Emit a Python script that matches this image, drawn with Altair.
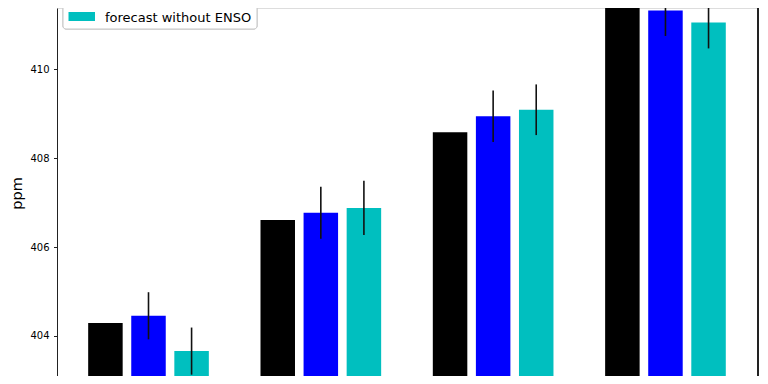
import altair as alt
import pandas as pd

# ---- data ----
groups = [0, 1, 2, 3]
series = ["observed", "forecast", "forecast without ENSO"]
colors = ["#000000", "#0000ff", "#00bfbf"]
observed = [404.29, 406.61, 408.585, 411.51]
forecast = [404.455, 406.77, 408.945, 411.32]
forecast_err = [0.53, 0.585, 0.58, 0.57]
no_enso = [403.66, 406.88, 409.09, 411.05]
no_enso_err = [0.53, 0.61, 0.57, 0.58]
y_ticks = [404, 406, 408, 410]

rows = []
for s_idx, (name, vals, errs) in enumerate([
    ("observed", observed, [0, 0, 0, 0]),
    ("forecast", forecast, forecast_err),
    ("forecast without ENSO", no_enso, no_enso_err),
]):
    for g, v, e in zip(groups, vals, errs):
        rows.append({"group": g, "series": name, "sidx": s_idx, "value": v, "err": e})
df = pd.DataFrame(rows)

legend_df = pd.DataFrame({"series": series, "row": list(range(len(series)))})

FONT = "DejaVu Sans"
W, H = 701, 368
y_dom = [403.10, 411.379]
x_dom = [-0.531, 3.537]

color_scale = alt.Scale(domain=series, range=colors)
y_axis = alt.Axis(values=y_ticks, format="d", grid=False, labelFont=FONT, labelFontSize=10,
                  labelColor="#000", tickColor="#222", tickSize=3.5, labelPadding=4.5,
                  domainColor="#222", domainWidth=1, title="ppm", titleFont=FONT,
                  titleFontSize=14.5, titleFontWeight="normal", titleColor="#000",
                  titleAngle=270, titleBaseline="alphabetic", titleX=-35.5, titleY=185,
                  titleAlign="center")
x_enc = alt.X("pos:Q", scale=alt.Scale(domain=x_dom, nice=False, zero=False, padding=0), axis=None)
y_scale = alt.Scale(domain=y_dom, nice=False, zero=False, padding=0)

base = alt.Chart(df).transform_calculate(pos="datum.group + (datum.sidx - 1) * 0.25")

bars = base.mark_bar(width=34.5, clip=True).encode(
    x=x_enc,
    y=alt.Y("value:Q", scale=y_scale, axis=y_axis),
    y2=alt.value(H),
    color=alt.Color("series:N", scale=color_scale, legend=None),
)

errs = base.transform_filter("datum.err > 0").transform_calculate(
    lo="datum.value - datum.err", hi="datum.value + datum.err"
).mark_rule(color="#111", strokeWidth=1.6, clip=True).encode(
    x=x_enc,
    y=alt.Y("lo:Q", scale=y_scale, axis=y_axis),
    y2="hi:Q",
)

right_spine = alt.Chart(df).mark_rule(color="#222", strokeWidth=1).encode(
    x=alt.value(W), y=alt.value(0), y2=alt.value(H)
)

main = alt.layer(bars, errs, right_spine)

leg_box = alt.Chart(legend_df).mark_rect(
    fill="white", fillOpacity=0.8, stroke="#cccccc", strokeWidth=1, cornerRadius=3
).encode(x=alt.value(6), x2=alt.value(200), y=alt.value(-40), y2=alt.value(21))

row_scale = alt.Scale(domain=[0, 2], range=[-30.5, 8.5])
leg_patch = alt.Chart(legend_df).mark_rule(strokeWidth=9, strokeCap="butt").encode(
    x=alt.value(11.5), x2=alt.value(38),
    y=alt.Y("row:Q", scale=row_scale, axis=None),
    color=alt.Color("series:N", scale=color_scale, legend=None),
)
leg_text = alt.Chart(legend_df).mark_text(
    align="left", baseline="alphabetic", font=FONT, fontSize=13, color="#000", dy=5
).encode(
    x=alt.value(48),
    y=alt.Y("row:Q", scale=row_scale, axis=None),
    text="series:N",
)
legend = alt.layer(leg_box, leg_patch, leg_text)

chart = alt.layer(main, legend).resolve_scale(y="independent").properties(
    width=W, height=H,
    autosize=alt.AutoSizeParams(type="none"),
    padding={"left": 49, "top": 0, "right": 2, "bottom": 0},
).configure_view(stroke=None).configure(background="white")

chart.save("out.html", embed_options={"renderer": "svg", "actions": False})
